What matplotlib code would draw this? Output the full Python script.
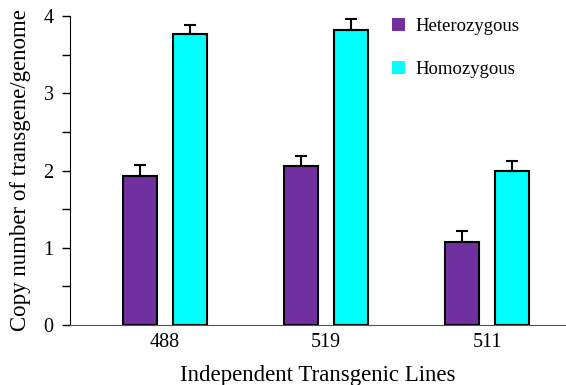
import numpy as np
import matplotlib.pyplot as plt
from matplotlib.patches import Patch

plt.rcParams['font.family'] = ['Liberation Serif', 'DejaVu Serif']

lines = ["488", "519", "511"]
hetero = [1.93, 2.06, 1.08]
hetero_err = [0.14, 0.13, 0.14]
homo = [3.77, 3.82, 1.99]
homo_err = [0.12, 0.14, 0.14]

x = np.arange(len(lines))
width = 0.21
offset = 0.156
purple, cyan = '#7030A0', '#00FFFF'

fig = plt.figure(figsize=(5.66, 3.85), dpi=100)
ax = fig.add_axes([0.124, 0.156, 0.876, 0.802])

err_kw = dict(ecolor='black', elinewidth=1.5, capsize=4, capthick=1.5)
ax.bar(x - offset, hetero, width, color=purple, edgecolor='black', linewidth=1.5,
       yerr=[np.zeros(3), hetero_err], error_kw=err_kw)
ax.bar(x + offset, homo, width, color=cyan, edgecolor='black', linewidth=1.5,
       yerr=[np.zeros(3), homo_err], error_kw=err_kw)

ax.set_xlim(-0.59, 2.49)
ax.set_ylim(0, 4)
ax.set_yticks([0, 1, 2, 3, 4])
ax.set_yticks(np.arange(0.5, 4, 1), minor=True)
ax.set_xticks(x)
ax.set_xticklabels(lines)
ax.tick_params(axis='x', length=0, labelsize=14.5, pad=6)
ax.tick_params(axis='y', which='both', length=6, width=1, labelsize=14.5, pad=6)
ax.spines['top'].set_visible(False)
ax.spines['right'].set_visible(False)
ax.spines['bottom'].set_color('#555555')

ax.set_xlabel("Independent Transgenic Lines", fontsize=16.5, labelpad=9)
ax.set_ylabel("Copy number of transgene/genome", fontsize=16.5, labelpad=9)

handles = [Patch(facecolor=purple, edgecolor='none', label='Heterozygous'),
           Patch(facecolor=cyan, edgecolor='none', label='Homozygous')]
ax.legend(handles=handles, loc='upper left', bbox_to_anchor=(0.615, 1.05), frameon=False,
          fontsize=13.5, handlelength=0.7, handleheight=0.7, handletextpad=0.55,
          labelspacing=1.4)

fig.savefig("out.png", dpi=100)
